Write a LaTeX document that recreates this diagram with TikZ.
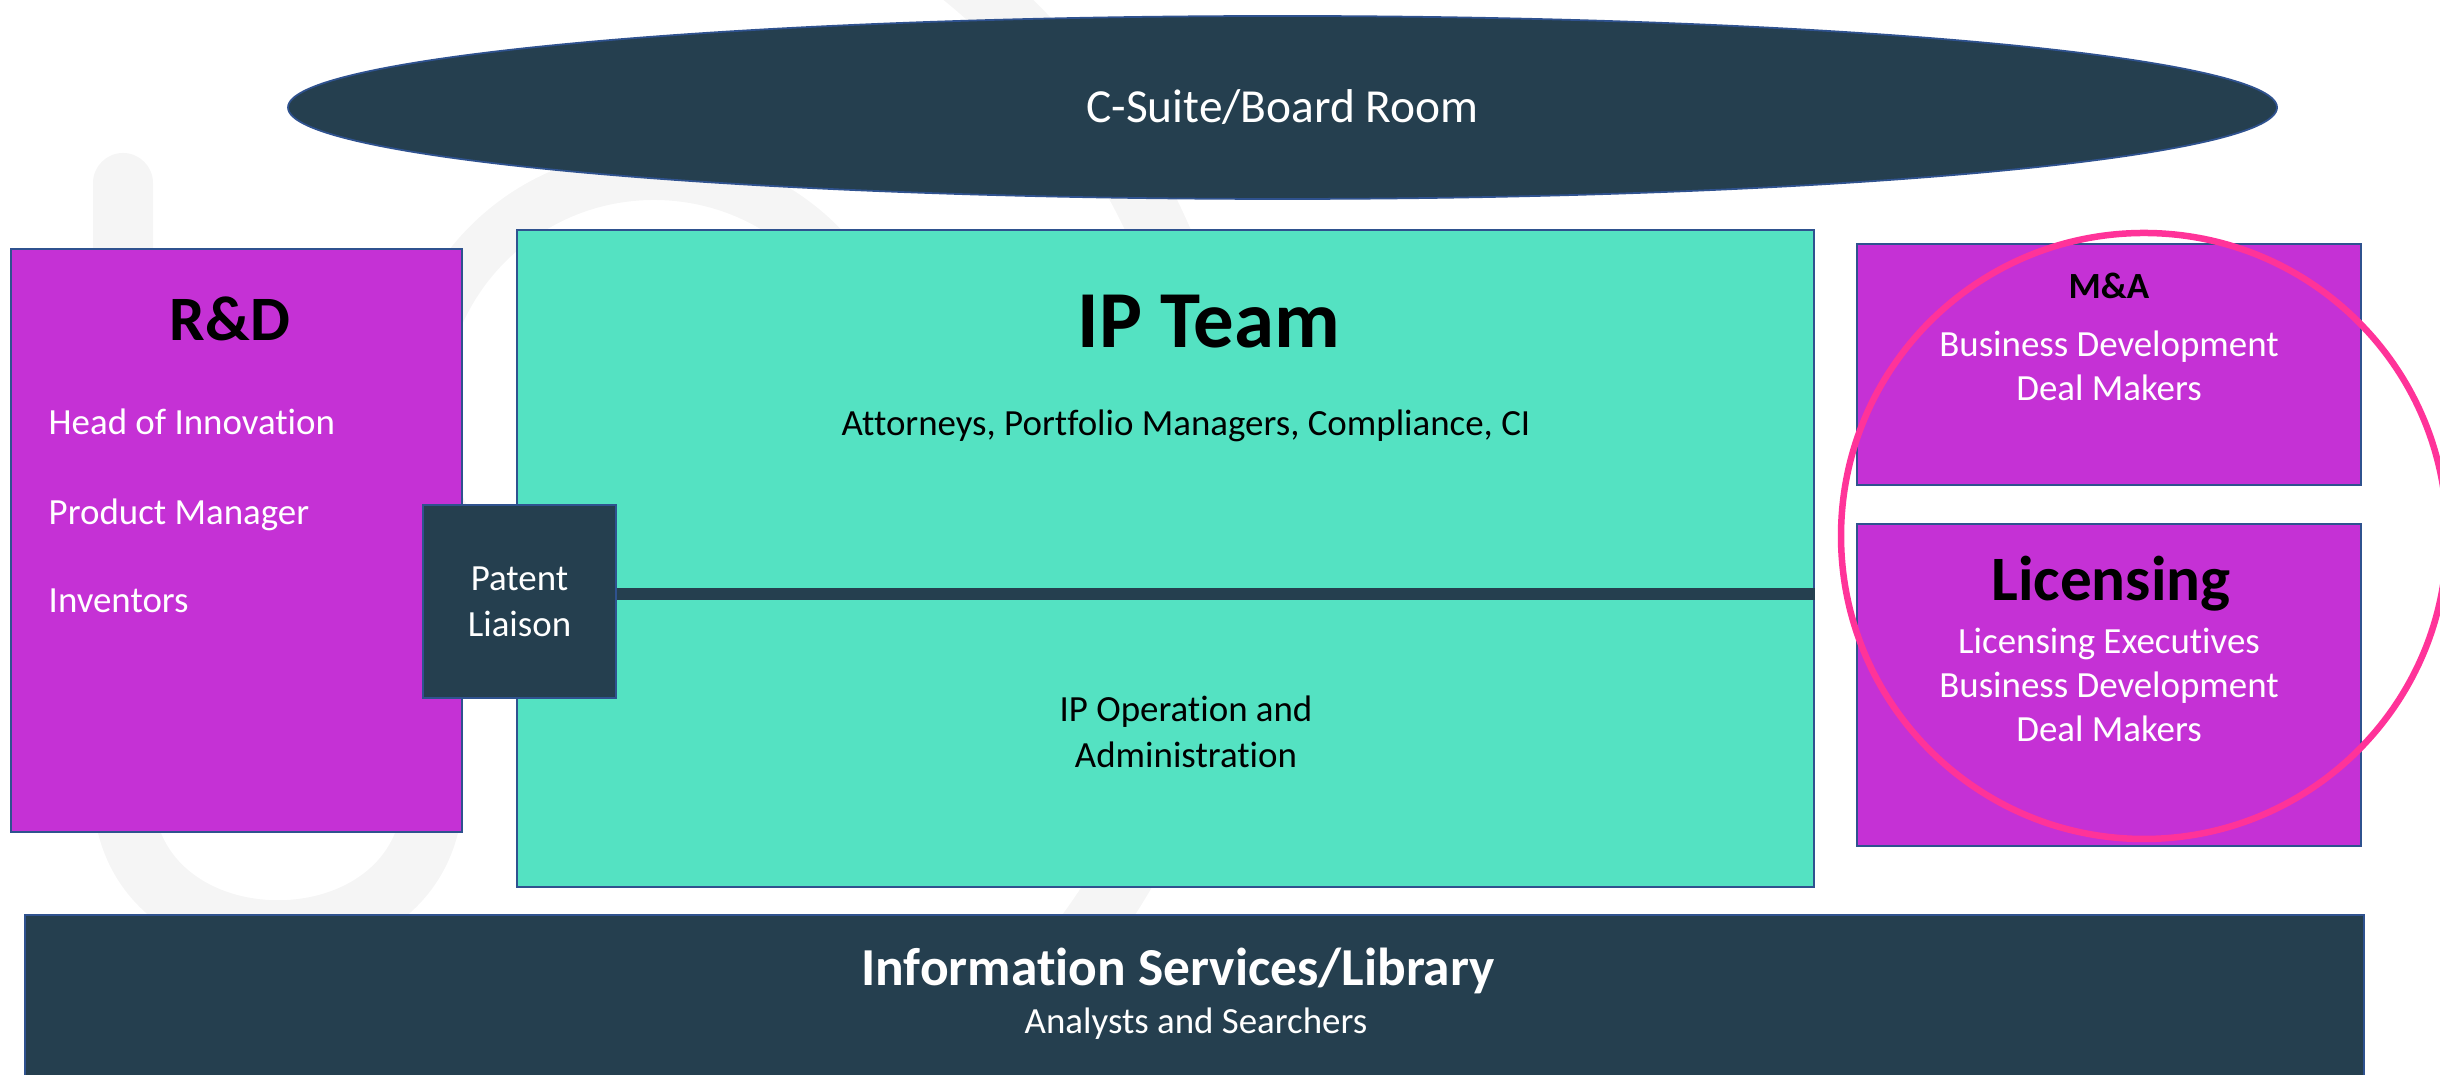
\documentclass[tikz,border=0pt]{standalone}
\usepackage{fontspec}
\setmainfont{Carlito}[Ligatures=NoCommon]
\usetikzlibrary{positioning, shapes.geometric}
\definecolor{slate}{HTML}{253F4F}
\definecolor{edgeblue}{HTML}{2F528F}
\definecolor{ipgreen}{HTML}{54E2C2}
\definecolor{orchid}{HTML}{C531D5}
\definecolor{hotpink}{HTML}{FF3399}
\definecolor{logogray}{HTML}{F5F5F5}

\begin{document}
\begin{tikzpicture}[
  board/.style={ellipse, draw=edgeblue, line width=0.5pt, fill=slate, minimum width=19.89cm, minimum height=1.83cm, inner sep=0pt, text=white, font=\fontsize{13.5}{16}\selectfont},
  unit/.style={rectangle, draw=edgeblue, line width=0.5pt, inner sep=0pt},
  purplebox/.style={unit, fill=orchid},
  greenbox/.style={unit, fill=ipgreen},
  darkbox/.style={unit, fill=slate, text=white, align=center, font=\fontsize{10.5}{13}\selectfont},
  heading/.style={inner sep=0pt, font=\bfseries\fontsize{18}{21}\selectfont},
  entry/.style={inner sep=0pt, text=white, text height=0.64em, text depth=0.2em, font=\fontsize{10.5}{13}\selectfont},
  entrylines/.style={inner sep=0pt, text=white, align=center, font=\fontsize{10.5}{12.6}\selectfont},
  plain/.style={inner sep=0pt, text=black, font=\fontsize{10.5}{13}\selectfont},
  bar/.style={draw=slate, line width=0.12cm},
  focus/.style={circle, draw=hotpink, line width=0.065cm, inner sep=0pt},
  logo/.style={draw=logogray, line width=0.6cm, line cap=round}
]
\useasboundingbox (0,0) rectangle (24.4,10.75);

% Faint logo in the background
\draw[logo] (1.23,8.92) -- (1.23,2.85) .. controls (1.23,0.98) and (4.33,0.98) .. (4.33,2.85) -- (4.33,6.0);
\draw[logo, line width=0.5cm] (6.54,6.65) circle (2.35);
\draw[logo] ([shift={(-40:7)}]5.21,5.55) arc (-40:55:7);

% Top - board room
\node[board] (csuite) at (12.825,9.675) {C-Suite/Board Room};

% Left - R&D
\node[purplebox, minimum width=4.51cm, minimum height=5.83cm] (rnd) at (2.365,5.345) {};
\node[heading] (rndtitle) at (2.30,7.56) {R\&D};
\node[entry, anchor=west] (innovation) at (0.48,6.48) {Head of Innovation};
\node[entry, anchor=west] (product) at (0.48,5.58) {Product Manager};
\node[entry, anchor=west] (inventors) at (0.48,4.70) {Inventors};

% Middle - IP team
\node[greenbox, minimum width=12.97cm, minimum height=6.57cm] (ipteam) at (11.655,5.165) {};
\node[heading, font=\bfseries\fontsize{23}{27}\selectfont] (iptitle) at (12.09,7.53) {IP Team};
\node[plain] (iproles) at (11.86,6.49) {Attorneys, Portfolio Managers, Compliance, CI};
\node[plain, align=center] (ipops) at (11.86,3.43) {IP Operation and\\Administration};

% Liaison between R&D and IP team
\node[darkbox, minimum size=1.93cm] (liaison) at (5.195,4.735) {Patent\\Liaison};
\draw[bar] ([yshift=0.075cm]liaison.east) -- ([yshift=0.075cm]liaison.east -| ipteam.east);

% Right - M&A and licensing
\node[purplebox, minimum width=5.04cm, minimum height=2.41cm] (manda) at (21.09,7.105) {};
\node[purplebox, minimum width=5.04cm, minimum height=3.22cm, below=0.37cm of manda] (licensing) {};
\node[heading, font=\bfseries\fontsize{10.5}{13}\selectfont] (mandatitle) at (21.09,7.89) {M\&A};
\node[entrylines] (mandateam) at (21.09,7.09) {Business Development\\Deal Makers};
\node[heading] (lictitle) at (21.11,4.91) {Licensing};
\node[entrylines] (licteam) at (21.09,3.90) {Licensing Executives\\Business Development\\Deal Makers};

% Bottom - information services
\node[darkbox, minimum width=23.39cm, minimum height=1.7cm] (infoserv) at (11.945,0.75) {};
\node[heading, text=white, font=\bfseries\fontsize{15.2}{18}\selectfont] (infotitle) at (11.78,1.04) {Information Services/Library};
\node[entry] (searchers) at (11.96,0.49) {Analysts and Searchers};

% Highlight round the right-hand boxes
\node[focus, minimum size=6.06cm] (spotlight) at (21.44,5.39) {};

\end{tikzpicture}
\end{document}
